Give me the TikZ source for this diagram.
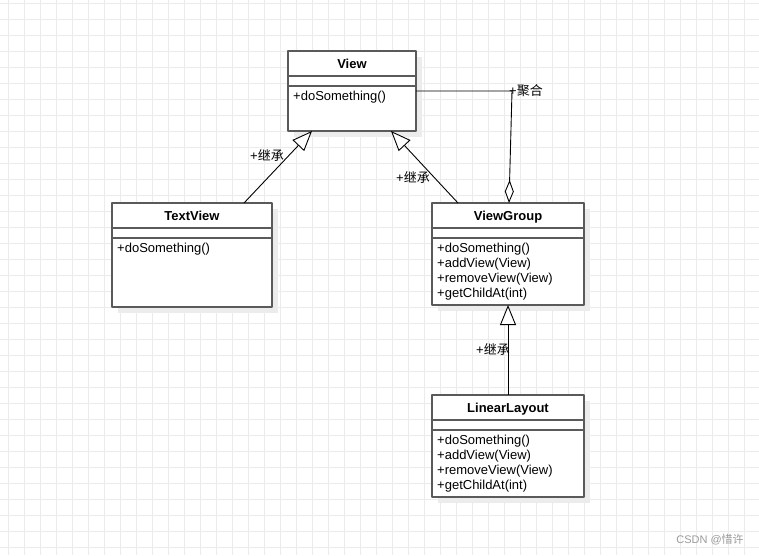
\documentclass[tikz,border=0pt]{standalone}
\usepackage{fontspec}
\setmainfont{Liberation Sans}
\newfontfamily\cjk{Noto Sans CJK SC}
\usetikzlibrary{arrows.meta,shadows}
\definecolor{gridc}{HTML}{EBEBEB}
\definecolor{boxc}{HTML}{5A5A5A}
\definecolor{shadowc}{HTML}{ECECEC}
\begin{document}
\begin{tikzpicture}[x=1pt,y=-1pt, line join=round,
	gridline/.style={draw=gridc, line width=0.8pt},
	clsbox/.style={draw=boxc, line width=1.7pt, fill=white, inner sep=0pt, outer sep=0pt, anchor=north west,
		drop shadow={shadow xshift=6pt, shadow yshift=-6pt, fill=shadowc, opacity=1}},
	cname/.style={font=\fontsize{13}{15}\selectfont\bfseries, inner sep=0pt, anchor=base},
	meth/.style={font=\fontsize{13}{15}\selectfont, inner sep=0pt, anchor=base west},
	sepline/.style={draw=boxc, line width=1.7pt},
	inherit/.style={-{Triangle[length=20pt,width=16pt,fill=white]}, line width=0.9pt},
	aggr/.style={-{Diamond[length=23pt,width=9pt,fill=white]}, line width=0.9pt},
	lbl/.style={font=\fontsize{13}{15}\selectfont, inner sep=0pt}]
	\useasboundingbox (0,0) rectangle (759,555);
	% background grid
	\foreach \gx in {8,24,...,759}
		\draw[gridline] (\gx,0) -- (\gx,555);
	\foreach \gy in {3,19,...,555}
		\draw[gridline] (0,\gy) -- (759,\gy);
	% classes
	\node[clsbox, minimum width=128pt, minimum height=80pt] (view) at (288,51) {};
	\node[clsbox, minimum width=160pt, minimum height=104pt] (tv) at (112,203) {};
	\node[clsbox, minimum width=152pt, minimum height=102pt] (vg) at (432,203) {};
	\node[clsbox, minimum width=152pt, minimum height=102pt] (ll) at (432,395) {};
	\foreach \c/\t in {view/View, tv/TextView, vg/ViewGroup, ll/LinearLayout}{
		\node[cname] (\c-name) at ([yshift=-17.5pt]\c.north) {\t};
		\draw[sepline] ([yshift=-25pt]\c.north west) -- ([yshift=-25pt]\c.north east);
		\draw[sepline] ([yshift=-35pt]\c.north west) -- ([yshift=-35pt]\c.north east);
	}
	\node[meth] (view-m1) at ([xshift=5pt,yshift=-49pt]view.north west) {+doSomething()};
	\node[meth] (tv-m1) at ([xshift=5pt,yshift=-49pt]tv.north west) {+doSomething()};
	\foreach \c in {vg,ll}
		\foreach \m [count=\i] in {+doSomething(),+addView(View),+removeView(View),+getChildAt(int)}
			\node[meth] (\c-m\i) at ([xshift=5pt,yshift={-34pt-15pt*\i}]\c.north west) {\m};
	% relations
	\draw[inherit] ([xshift=132pt]tv.north west) -- ([xshift=24pt]view.south west);
	\draw[inherit] ([xshift=26pt]vg.north west) -- ([xshift=103pt]view.south west);
	\draw[inherit] (ll.north) -- (vg.south);
	\coordinate (agg) at (512,91);
	\draw[aggr] (view.east) -- (agg) -- ([xshift=77pt]vg.north west);
	\node[lbl] (l-tv) at (267,155) {+{\cjk 继承}};
	\node[lbl] (l-vg) at (413,177) {+{\cjk 继承}};
	\node[lbl] (l-ll) at (493,349) {+{\cjk 继承}};
	\node[lbl, anchor=west] (l-agg) at (509,91) {+{\cjk 聚合}};
	\node[font=\fontsize{11}{13}\selectfont, text=black!40, inner sep=0pt] (wm) at (710,540) {CSDN @{\cjk 惜许}};
\end{tikzpicture}
\end{document}
